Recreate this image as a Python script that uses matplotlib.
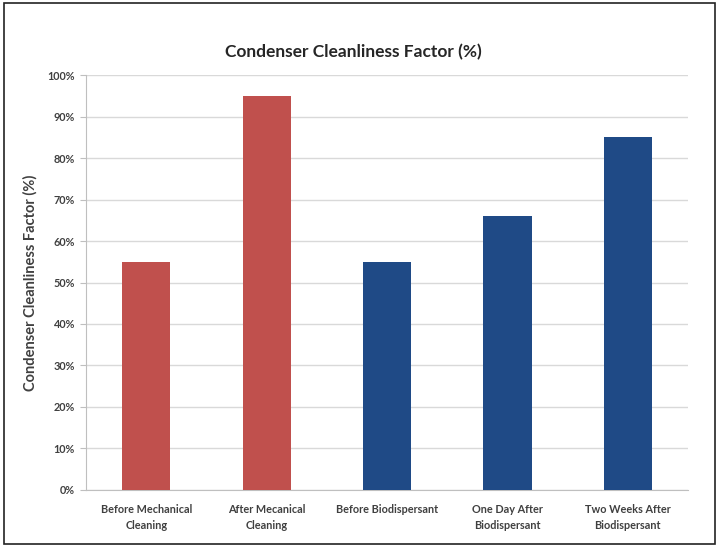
import matplotlib
matplotlib.use("Agg")
import matplotlib.pyplot as plt
from matplotlib.patches import Rectangle
from matplotlib.ticker import MultipleLocator, FuncFormatter

categories = [
    "Before Mechanical\nCleaning",
    "After Mecanical\nCleaning",
    "Before Biodispersant",
    "One Day After\nBiodispersant",
    "Two Weeks After\nBiodispersant",
]
cleanliness = [55, 95, 55, 66, 85]
bar_colors = ["#C0504D", "#C0504D", "#1F4A86", "#1F4A86", "#1F4A86"]

plt.rcParams["font.family"] = ["Lato", "DejaVu Sans"]
text_color = "#404040"

fig = plt.figure(figsize=(7.17, 5.46), dpi=100)
ax = fig.add_axes([0.12, 0.1026, 0.8396, 0.76])

x = range(len(categories))
ax.bar(x, cleanliness, width=0.4, color=bar_colors, zorder=3)

ax.set_xlim(-0.5, len(categories) - 0.5)
ax.set_ylim(0, 100)
ax.yaxis.set_major_locator(MultipleLocator(10))
ax.yaxis.set_major_formatter(FuncFormatter(lambda v, p: f"{int(v)}%"))
ax.grid(axis="y", color="#D9D9D9", linewidth=1, zorder=0)
ax.set_xticks(list(x))
ax.set_xticklabels(categories, fontsize=7.8, fontweight="bold", color=text_color,
                   linespacing=1.55)
ax.tick_params(axis="x", length=0, pad=10)
ax.tick_params(axis="y", length=4, color="#BFBFBF", labelsize=7.8,
               labelcolor=text_color, pad=4)
for lbl in ax.get_yticklabels():
    lbl.set_fontweight("bold")

for side in ("top", "right"):
    ax.spines[side].set_visible(False)
ax.spines["left"].set_color("#BFBFBF")
ax.spines["bottom"].set_color("#BFBFBF")

ax.set_ylabel("Condenser Cleanliness Factor (%)", fontsize=10.5,
              fontweight="bold", color=text_color, labelpad=7)
fig.text(0.493, 0.905, "Condenser Cleanliness Factor (%)", ha="center",
         va="center", fontsize=12.5, fontweight="bold", color="#262626")

fig.patches.append(Rectangle((0.005, 0.004), 0.992, 0.99,
                             transform=fig.transFigure, fill=False,
                             edgecolor="#222222", linewidth=1.2))

fig.savefig("out.png", dpi=100)
